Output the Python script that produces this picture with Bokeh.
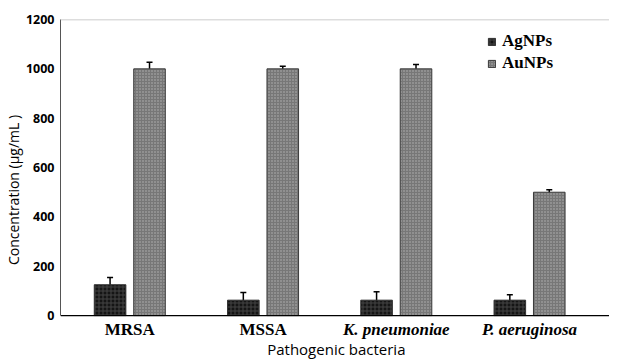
from bokeh.plotting import figure
from bokeh.models import (ColumnDataSource, Range1d, Legend, LegendItem,
                          Whisker, TeeHead, FixedTicker, Span)
from bokeh.core.properties import value
from bokeh.embed import file_html
from bokeh.resources import INLINE

categories = ["MRSA", "MSSA", "K. pneumoniae", "P. aeruginosa"]
cat_style = ["bold", "bold", "bold italic", "bold italic"]
agnps = [125, 62.5, 62.5, 62.5]
agnps_err = [29, 31, 34, 22]
aunps = [1000, 1000, 1000, 500]
aunps_err = [27, 11, 18, 10]
y_ticks = [0, 200, 400, 600, 800, 1000, 1200]
x_title = "Pathogenic bacteria"
y_title = "Concentration (µg/mL )"

x = list(range(len(categories)))
off = 0.148
bw = 0.237

src = ColumnDataSource(dict(
    xa=[i - off for i in x], xb=[i + off for i in x],
    ag=agnps, au=aunps,
    ag_lo=[v - e for v, e in zip(agnps, agnps_err)],
    ag_hi=[v + e for v, e in zip(agnps, agnps_err)],
    au_lo=[v - e for v, e in zip(aunps, aunps_err)],
    au_hi=[v + e for v, e in zip(aunps, aunps_err)],
))

p = figure(width=609, height=360, output_backend="svg", toolbar_location=None,
           x_range=Range1d(-0.52, 3.6), y_range=Range1d(-182, 1200),
           min_border_left=53, min_border_top=19, min_border_bottom=0,
           min_border_right=0)
p.outline_line_color = None
p.xgrid.visible = False
p.ygrid.visible = False
p.xaxis.visible = False

p.add_layout(Span(location=1200, dimension="width", line_color="#bbbbbb", line_width=1.5))
p.add_layout(Span(location=0, dimension="width", line_color="black", line_width=1.3))

r_ag = p.vbar(x="xa", top="ag", width=bw, source=src, fill_color="#151515",
              line_color="#333333", line_width=1,
              hatch_pattern="cross", hatch_color="#444444", hatch_scale=4, hatch_weight=1)
r_au = p.vbar(x="xb", top="au", width=bw, source=src, fill_color="#777777",
              line_color="#3a3a3a", line_width=1,
              hatch_pattern="dot", hatch_color="#b5b5b5", hatch_scale=3, hatch_weight=1)

for lo, hi, xx in (("ag_lo", "ag_hi", "xa"), ("au_lo", "au_hi", "xb")):
    w = Whisker(source=src, base=xx, lower=lo, upper=hi, line_color="black", line_width=1.5,
                upper_head=TeeHead(size=6, line_color="black", line_width=1.5),
                lower_head=TeeHead(size=6, line_color="black", line_width=1.5))
    p.add_layout(w)

# y axis
p.yaxis.bounds = (0, 1200)
p.yaxis.ticker = FixedTicker(ticks=y_ticks)
p.yaxis.major_tick_line_color = None
p.yaxis.minor_tick_line_color = None
p.yaxis.major_tick_in = 0
p.yaxis.major_tick_out = 0
p.yaxis.axis_line_color = "#555555"
p.yaxis.major_label_text_font = "Open Sans"
p.yaxis.major_label_text_font_style = "bold"
p.yaxis.major_label_text_font_size = "12.5px"
p.yaxis.major_label_text_color = "black"
p.yaxis.major_label_standoff = 6
p.yaxis.axis_label = y_title
p.yaxis.axis_label_text_font = "Open Sans"
p.yaxis.axis_label_text_font_style = "normal"
p.yaxis.axis_label_text_font_size = "14px"
p.yaxis.axis_label_text_color = "black"
p.yaxis.axis_label_standoff = 0

# category labels (inside the extended frame, below y=0)
lab = ColumnDataSource(dict(x=x, y=[-57] * len(x), text=categories, style=cat_style))
p.text(x="x", y="y", text="text", source=lab, text_font=value("Liberation Serif"),
       text_font_style="style", text_font_size="17px", text_align="center",
       text_baseline="middle", text_color="black")
p.text(x=[1.55], y=[-136], text=[x_title], text_font=value("Open Sans"),
       text_font_size="15px", text_align="center", text_baseline="middle",
       text_color="black")

legend = Legend(items=[LegendItem(label="AgNPs", renderers=[r_ag]),
                       LegendItem(label="AuNPs", renderers=[r_au])],
                location=(427, 286), border_line_color=None, background_fill_alpha=0,
                padding=0, margin=0, spacing=0, label_height=22, glyph_height=9,
                glyph_width=9, label_standoff=6, label_text_font="Liberation Serif",
                label_text_font_style="bold", label_text_font_size="17px",
                label_text_color="black")
p.add_layout(legend)

open("out.html", "w").write(file_html(p, INLINE))
